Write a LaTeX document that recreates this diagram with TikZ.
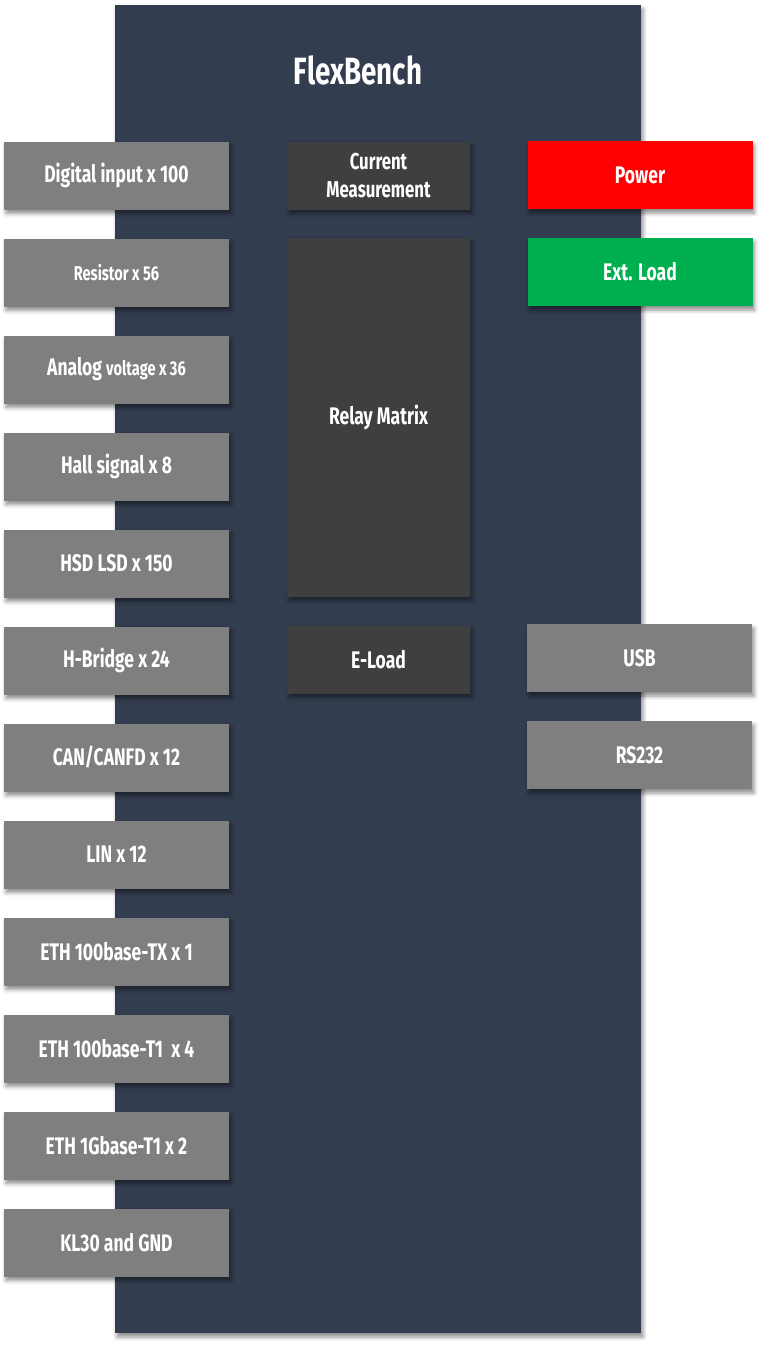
\documentclass[tikz,border=0pt]{standalone}
\usepackage{fontspec}
\setmainfont[FakeStretch=0.73]{Fira Sans}
\usepackage{tikz}
\usetikzlibrary{positioning,shadows.blur}

\definecolor{benchblue}{HTML}{333D50}
\definecolor{portgrey}{HTML}{7F7F7F}
\definecolor{unitgrey}{HTML}{3F3F3F}
\definecolor{powerred}{HTML}{FF0000}
\definecolor{loadgreen}{HTML}{00B050}

\tikzset{
  box/.style={rectangle, inner sep=0pt, outer sep=0pt, text=white, align=center,
    font=\bfseries\fontsize{24}{28}\selectfont,
    blur shadow={shadow xshift=2pt, shadow yshift=-4pt, shadow blur radius=4pt, shadow opacity=45}},
  port/.style={box, fill=portgrey, minimum width=225pt, minimum height=68pt},
  unit/.style={box, fill=unitgrey, minimum width=183pt, minimum height=68pt},
  ext/.style={box, minimum width=225pt, minimum height=68pt},
}

\begin{document}
\begin{tikzpicture}[x=1pt, y=-1pt, node distance=29pt]
  \useasboundingbox (0,0) rectangle (768,1349);

  % bench body
  \node[box, fill=benchblue, minimum width=526pt, minimum height=1328pt] (bench) at (378,669) {};
  \node[text=white, font=\bfseries\fontsize{38}{40}\selectfont] (title) at (358,70) {FlexBench};

  % inputs on the left
  \node[port] (din) at (116.5,175.5) {Digital input x 100};
  \node[port, below=of din] (res) {\fontsize{20}{24}\selectfont Resistor x 56};
  \node[port, below=of res] (ana) {Analog {\fontsize{20}{24}\selectfont voltage x 36}};
  \node[port, below=of ana] (hall) {Hall signal x 8};
  \node[port, below=of hall] (hsd) {HSD LSD x 150};
  \node[port, below=of hsd] (hbr) {H-Bridge x 24};
  \node[port, below=of hbr] (can) {CAN/CANFD x 12};
  \node[port, below=of can] (lin) {LIN x 12};
  \node[port, below=of lin] (ethtx) {ETH 100base-TX x 1};
  \node[port, below=of ethtx] (etht1) {ETH 100base-T1~ x 4};
  \node[port, below=of etht1] (ethg) {ETH 1Gbase-T1 x 2};
  \node[port, below=of ethg] (kl30) {KL30 and GND};

  % units inside
  \node[unit, font=\bfseries\fontsize{23}{28}\selectfont] (curr) at (378.5,175.5) {Current\\Measurement};
  \node[unit, minimum height=359pt, below=28pt of curr] (relay) {Relay Matrix};
  \node[unit, below=of relay] (eload) {E-Load};

  % right side
  \node[ext, fill=powerred] (power) at (640,175) {Power};
  \node[ext, fill=loadgreen, below=of power] (extload) {Ext. Load};
  \node[ext, fill=portgrey] (usb) at (639.5,658) {USB};
  \node[ext, fill=portgrey, below=of usb] (rs232) {RS232};
\end{tikzpicture}
\end{document}
